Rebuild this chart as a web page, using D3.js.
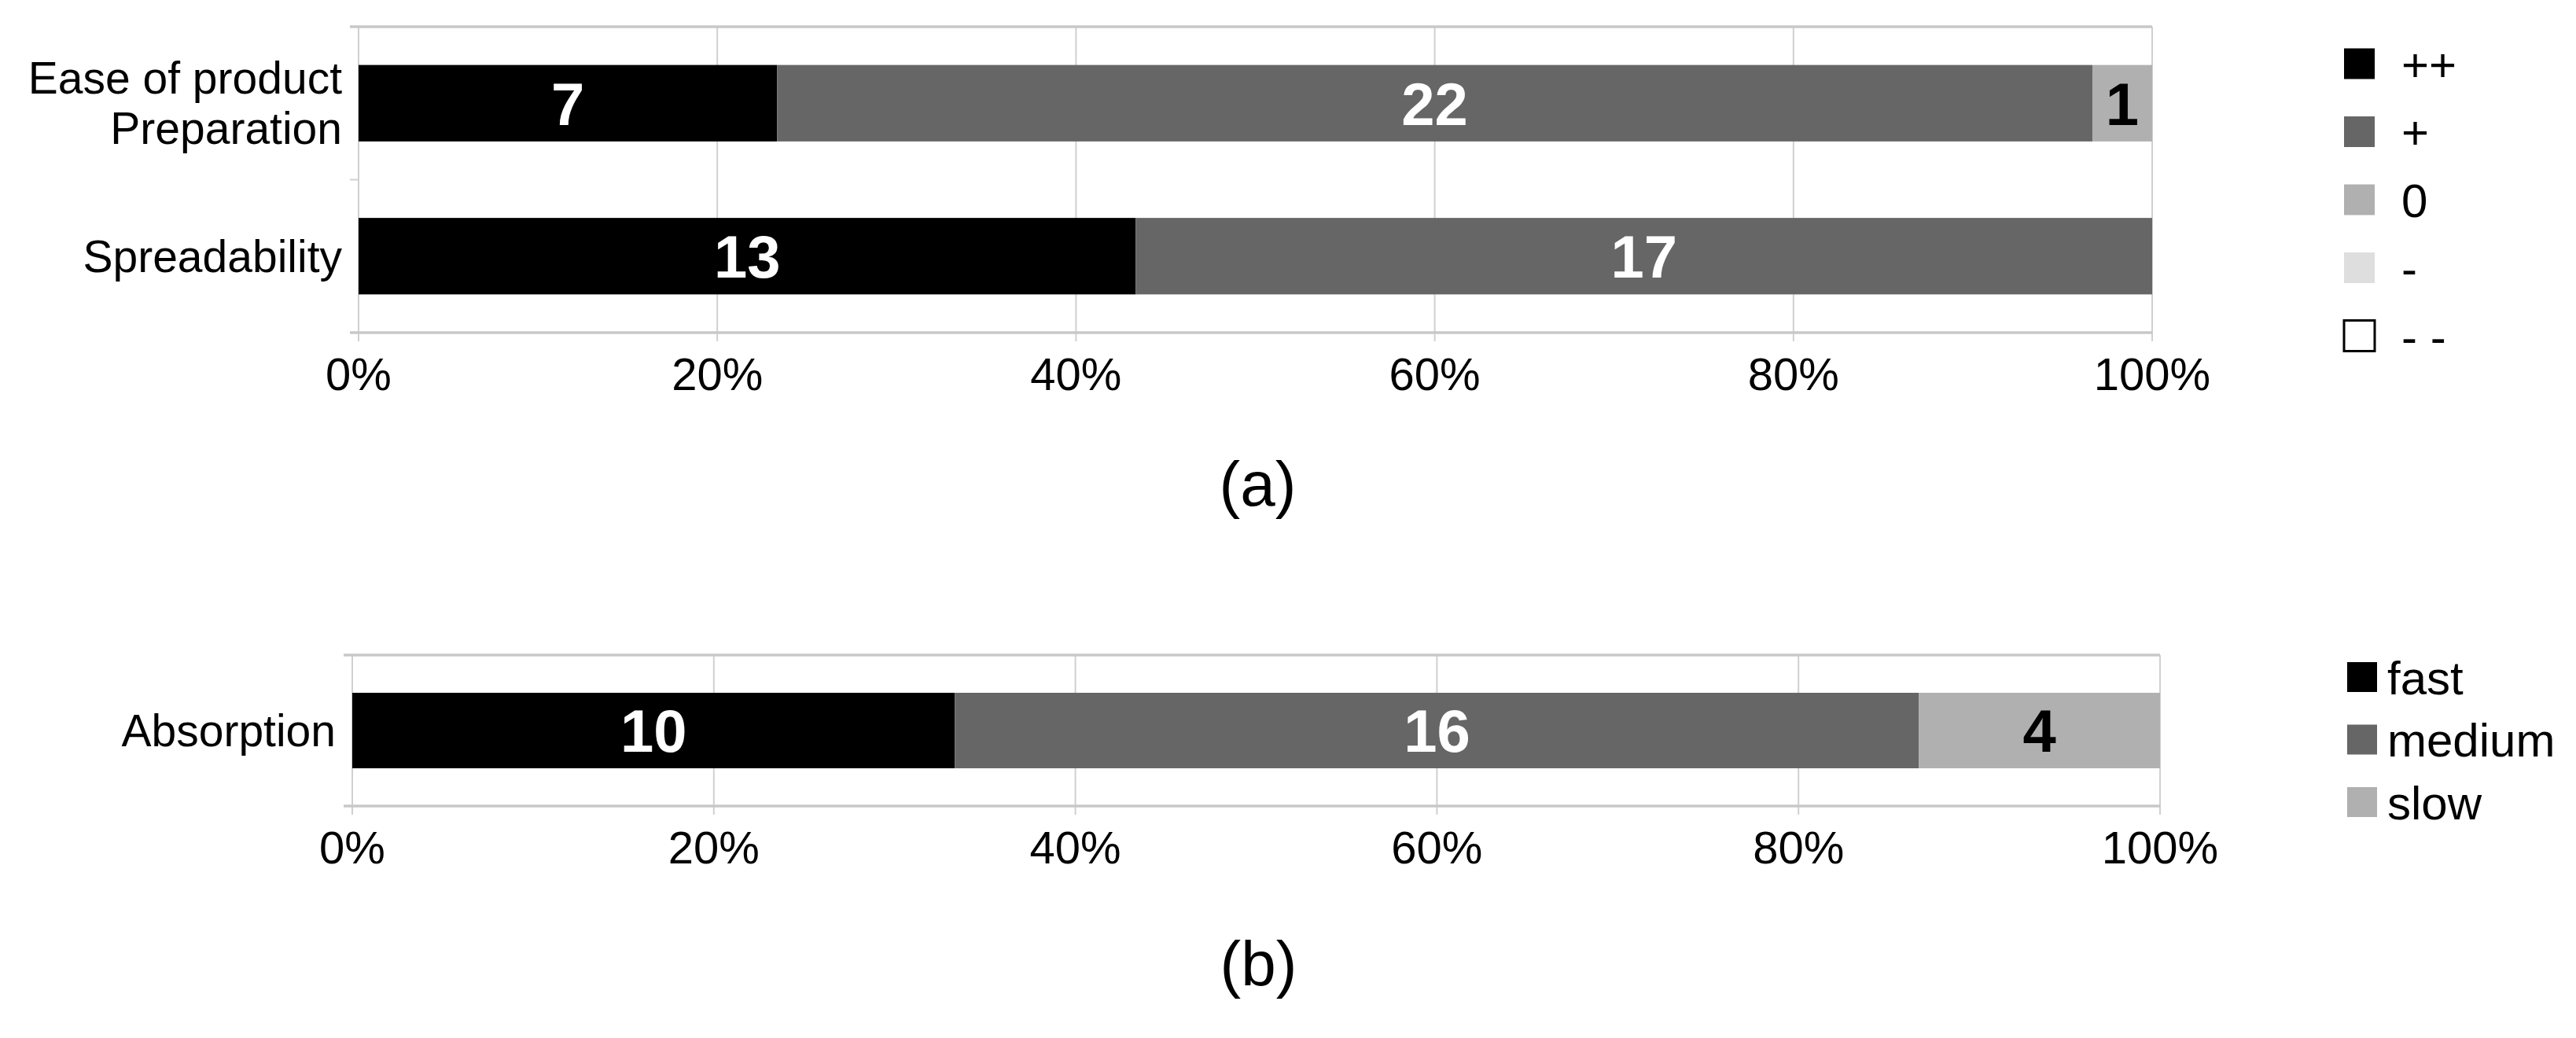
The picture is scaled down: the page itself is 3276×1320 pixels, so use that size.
<!DOCTYPE html>
<html>
<head>
<meta charset="utf-8">
<title>Stacked percentage bars</title>
<script src="https://d3js.org/d3.v7.min.js"></script>
<style>
  body { margin: 0; background: #fff; }
  text { font-family: "Liberation Sans", Arial, sans-serif; }
  .grid line { stroke: #d0d0d0; stroke-width: 2; }
  .frame { stroke: #c8c8c8; stroke-width: 3.5; }
  .val { font-weight: bold; font-size: 76px; text-anchor: middle; }
</style>
</head>
<body>
<div id="graphe"></div>
<script>
// panel (a)
var categoriesA = ["Ease of product\nPreparation", "Spreadability"];
var levelsA = ["++", "+", "0", "-", "- -"];
var countsA = [
  [7, 22, 1, 0, 0],
  [13, 17, 0, 0, 0]
];
var coloursA = ["#000000", "#666666", "#b0b0b0", "#dedede", "#ffffff"];

// panel (b)
var categoriesB = ["Absorption"];
var levelsB = ["fast", "medium", "slow"];
var countsB = [[10, 16, 4]];
var coloursB = ["#000000", "#666666", "#b0b0b0"];

var tickValues = [0, 0.2, 0.4, 0.6, 0.8, 1];
var captions = ["(a)", "(b)"];

var W = 3276, H = 1320;
var svg = d3.select("#graphe").append("svg")
  .attr("width", W)
  .attr("height", H);

function panel(opt) {
  var g = svg.append("g");
  var x = d3.scaleLinear().domain([0, 1]).range([opt.left, opt.right]);
  var y = d3.scaleBand().domain(opt.categories).range([opt.top, opt.bottom]).paddingInner(0.5).paddingOuter(0.25);

  // rows -> objects for the stack
  var rows = opt.counts.map(function(c, i) {
    var o = { cat: opt.categories[i] };
    opt.levels.forEach(function(l, j) { o[l] = c[j]; });
    return o;
  });
  var series = d3.stack().keys(opt.levels).offset(d3.stackOffsetExpand)(rows);

  // vertical grid lines, running a little under the axis
  g.append("g").attr("class", "grid")
    .selectAll("line").data(tickValues).enter().append("line")
    .attr("x1", function(d) { return x(d); })
    .attr("x2", function(d) { return x(d); })
    .attr("y1", opt.top)
    .attr("y2", opt.bottom + 11);

  // small ticks on the left, at the category boundaries
  var bounds = opt.categories.map(function(c) { return y(c) - y.step() * 0.25; }).concat([opt.bottom]);
  g.append("g").attr("class", "grid")
    .selectAll("line").data(bounds).enter().append("line")
    .attr("x1", x(0) - 11).attr("x2", x(0))
    .attr("y1", function(d) { return d; })
    .attr("y2", function(d) { return d; });

  // top and bottom frame lines
  g.append("line").attr("class", "frame")
    .attr("x1", x(0) - 11).attr("x2", x(1))
    .attr("y1", opt.top).attr("y2", opt.top);
  g.append("line").attr("class", "frame")
    .attr("x1", x(0) - 11).attr("x2", x(1))
    .attr("y1", opt.bottom).attr("y2", opt.bottom);

  // bars
  var layer = g.selectAll(".layer").data(series).enter().append("g")
    .attr("fill", function(d, i) { return opt.colours[i]; });
  layer.selectAll("rect").data(function(d) { return d; }).enter().append("rect")
    .attr("x", function(d) { return x(d[0]); })
    .attr("width", function(d) { return x(d[1]) - x(d[0]); })
    .attr("y", function(d) { return y(d.data.cat); })
    .attr("height", y.bandwidth());

  // value labels
  series.forEach(function(s, i) {
    s.forEach(function(d) {
      var v = d.data[s.key];
      if (!v) return;
      g.append("text").attr("class", "val")
        .attr("x", x((d[0] + d[1]) / 2))
        .attr("y", y(d.data.cat) + y.bandwidth() / 2)
        .attr("dy", "0.36em")
        .attr("fill", i < 2 ? "#fff" : "#000")
        .text(v);
    });
  });

  // category labels
  opt.categories.forEach(function(c) {
    var lines = c.split("\n");
    var cy = y(c) + y.bandwidth() / 2;
    var t = g.append("text")
      .attr("text-anchor", "end")
      .attr("font-size", 57);
    lines.forEach(function(l, k) {
      t.append("tspan")
        .attr("x", x(0) - 21)
        .attr("y", cy + 20 + (k - (lines.length - 1) / 2) * 64)
        .text(l);
    });
  });

  // x axis labels
  g.selectAll(".tick-label").data(tickValues).enter().append("text")
    .attr("x", function(d) { return x(d); })
    .attr("y", opt.bottom + 73)
    .attr("text-anchor", "middle")
    .attr("font-size", 58)
    .text(d3.format(".0%"));

  // legend
  var lg = g.selectAll(".leg").data(opt.levels).enter().append("g")
    .attr("transform", function(d, i) {
      return "translate(" + opt.legX + "," + (opt.legY + i * opt.legStep) + ")";
    });
  lg.append("rect")
    .attr("x", 0).attr("y", -opt.sw / 2)
    .attr("width", opt.sw).attr("height", opt.sw)
    .attr("fill", function(d, i) { return opt.colours[i]; })
    .attr("stroke", function(d, i) { return opt.colours[i] === "#ffffff" ? "#000" : "none"; })
    .attr("stroke-width", 3);
  lg.append("text")
    .attr("x", opt.textX)
    .attr("dy", "0.36em")
    .attr("font-size", 60)
    .text(function(d) { return d; });

  // caption
  svg.append("text")
    .attr("x", (opt.left + opt.right) / 2 + 3)
    .attr("y", opt.capY)
    .attr("text-anchor", "middle")
    .attr("font-size", 80)
    .text(opt.caption);
}

panel({
  categories: categoriesA, levels: levelsA, counts: countsA, colours: coloursA,
  left: 456, right: 2737, top: 34, bottom: 423,
  legX: 2981, legY: 81, legStep: 86.5, sw: 39, textX: 73,
  capY: 643, caption: captions[0]
});

panel({
  categories: categoriesB, levels: levelsB, counts: countsB, colours: coloursB,
  left: 448, right: 2747, top: 833, bottom: 1025,
  legX: 2985, legY: 861, legStep: 79.5, sw: 38, textX: 51,
  capY: 1253, caption: captions[1]
});
</script>
</body>
</html>
